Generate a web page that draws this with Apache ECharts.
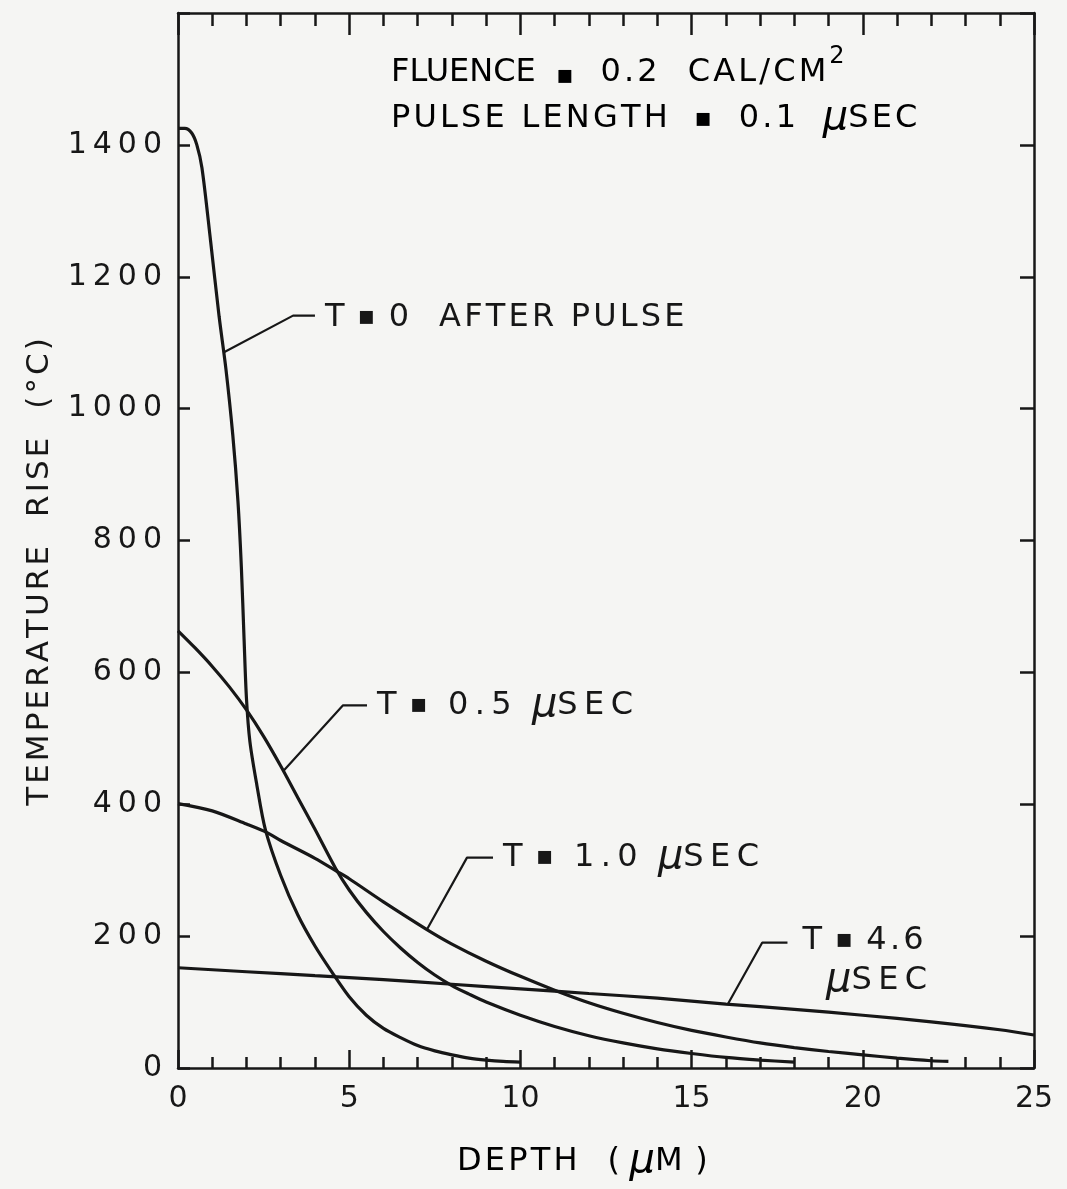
<!DOCTYPE html>
<html>
<head>
<meta charset="utf-8">
<script src="https://cdn.jsdelivr.net/npm/echarts@6/dist/echarts.min.js"></script>
<style>
  html, body { margin: 0; padding: 0; background: #f5f5f3; }
  #chart { width: 1067px; height: 1189px; }
</style>
</head>
<body>
<div id="chart"></div>
<script>
// Temperature rise versus depth for several times after a 0.1 µs laser pulse.
const FONT = '"DejaVu Sans", sans-serif';
const INK = '#171717';

// T = 0 after pulse
const t0Depth = [0, 0.2, 0.4, 0.55, 0.7, 0.95, 1.2, 1.4, 1.6, 1.75, 1.85, 1.93, 2.0, 2.1, 2.3, 2.55, 3.0, 3.5, 4.0, 4.5, 5.0, 5.5, 6.0, 6.5, 7.0, 7.5, 8.0, 8.5, 9.0, 9.5, 10.0];
const t0Temp  = [1425, 1425, 1418, 1400, 1365, 1255, 1140, 1060, 960, 860, 760, 650, 560, 495, 430, 362, 292, 232, 185, 145, 108, 80, 60, 46, 34, 26, 20, 15, 12, 10, 9];

// T = 0.5 µs
const t05Depth = [0, 0.5, 1.0, 1.5, 2.0, 2.5, 3.0, 3.5, 4.0, 4.6, 5.0, 5.5, 6.0, 6.5, 7.0, 7.5, 8.0, 8.5, 9.0, 10, 11, 12, 13, 14, 15, 16, 17, 18];
const t05Temp  = [663, 637, 609, 578, 543, 503, 458, 410, 362, 303, 270, 236, 207, 182, 160, 141, 125, 112, 100, 80, 63, 49, 38, 29, 22, 16, 12, 9];

// T = 1.0 µs
const t10Depth = [0, 1, 2, 2.6, 3, 4, 4.65, 5, 6, 7.27, 8, 9, 10, 11, 12, 13, 14, 15, 16, 17, 18, 19, 20, 21, 22, 22.5];
const t10Temp  = [401, 390, 370, 357, 345, 318, 298, 287, 252, 210, 188, 162, 139, 118, 99, 83, 69, 57, 47, 38, 31, 25, 20, 15, 11, 10];

// T = 4.6 µs
const t46Depth = [0, 2, 4, 6, 8, 10, 12, 14, 16, 18, 20, 22, 24, 25];
const t46Temp  = [152, 146, 140, 134, 127, 120, 113, 106, 97, 89, 80, 70, 58, 50];

// Leader lines (depth, temperature) from each curve to its caption
const leadT0Depth  = [1.33, 3.36, 4.0];
const leadT0Temp   = [1085, 1141, 1141];
const leadT05Depth = [3.07, 4.82, 5.52];
const leadT05Temp  = [450, 550, 550];
const leadT10Depth = [7.27, 8.44, 9.2];
const leadT10Temp  = [210, 319, 319];
const leadT46Depth = [16.06, 17.06, 17.8];
const leadT46Temp  = [97, 190, 190];

const xTicks = [0, 5, 10, 15, 20, 25];
const yTicks = [0, 200, 400, 600, 800, 1000, 1200, 1400];

const zip = (xs, ys) => xs.map((x, i) => [x, ys[i]]);
// hand-lettered look: a little air between the characters
const thin = s => s.split('').join('\u2009');
const air = s => s.split('').join('\u200A');

const MU = { fontFamily: FONT, fontSize: 40, fontStyle: 'italic', color: INK };
const TXT = { fontFamily: FONT, fontSize: 32, color: INK };
const DOT = { fontFamily: FONT, fontSize: 26, color: INK };
const t = s => '{t|' + air(s) + '}';     // slightly open
const w = s => '{t|' + thin(s) + '}';    // wide lettering
const p = s => '{t|' + s + '}';          // plain
const mu = '{mu|\u03BC}';
const eq = '{dot|\u25AA}';

function curve(name, xs, ys) {
  return {
    name, type: 'line', data: zip(xs, ys),
    smooth: 0.3, symbol: 'none',
    lineStyle: { color: INK, width: 3.2 }, silent: true, z: 3
  };
}
function leader(xs, ys, text, offset) {
  return {
    type: 'line', data: zip(xs, ys), symbol: 'none', silent: true, z: 4,
    lineStyle: { color: INK, width: 2.2 },
    endLabel: {
      show: true, distance: 10, offset: offset || [0, 0],
      formatter: text, align: 'left',
      fontFamily: FONT, fontSize: 32, color: INK, lineHeight: 40,
      rich: { t: TXT, mu: MU, dot: DOT }
    }
  };
}
const frame = () => ({ color: INK, width: 2.5 });
const tickLine = () => ({ color: INK, width: 2.5 });

const chart = echarts.init(document.getElementById('chart'), null, { renderer: 'canvas' });

chart.setOption({
  animation: false,
  backgroundColor: '#f5f5f3',
  grid: { left: 178, right: 33, top: 13, bottom: 121, containLabel: false },
  xAxis: [{
    type: 'value', min: 0, max: 25, interval: 5, position: 'bottom',
    axisLine: { show: true, onZero: false, lineStyle: frame() },
    axisTick: { show: true, inside: true, length: 18, lineStyle: tickLine() },
    minorTick: { show: true, splitNumber: 5, length: 11, lineStyle: tickLine() },
    axisLabel: { margin: 16, fontFamily: FONT, fontSize: 30, color: INK,
      formatter: v => xTicks.includes(v) ? String(v) : '' },
    splitLine: { show: false }
  }, {
    type: 'value', min: 0, max: 25, interval: 5, position: 'top',
    axisLine: { show: true, onZero: false, lineStyle: frame() },
    axisTick: { show: true, inside: true, length: 22, lineStyle: tickLine() },
    minorTick: { show: true, splitNumber: 5, length: 13, lineStyle: tickLine() },
    axisLabel: { show: false },
    splitLine: { show: false }
  }],
  yAxis: [{
    type: 'value', min: 0, max: 1600, interval: 200, position: 'left',
    axisLine: { show: true, onZero: false, lineStyle: frame() },
    axisTick: { show: true, inside: true, length: 12, lineStyle: tickLine() },
    axisLabel: { margin: 16, fontFamily: FONT, fontSize: 30, color: INK,
      formatter: v => yTicks.includes(v) ? thin(String(v)) : '' },
    splitLine: { show: false }
  }, {
    type: 'value', min: 0, max: 1600, interval: 200, position: 'right',
    axisLine: { show: true, onZero: false, lineStyle: frame() },
    axisTick: { show: true, inside: true, length: 14, lineStyle: tickLine() },
    axisLabel: { show: false },
    splitLine: { show: false }
  }],
  graphic: [
    { type: 'text', left: 391, top: 45, style: {
        text: p('FLUENCE  ') + eq + t('  0.2  CAL/CM') + '{sup|2}',
        rich: {
          t: Object.assign({ lineHeight: 34, verticalAlign: 'bottom' }, TXT),
          dot: Object.assign({ lineHeight: 34, verticalAlign: 'bottom' }, DOT),
          sup: { fontFamily: FONT, fontSize: 24, color: INK, lineHeight: 24,
                 verticalAlign: 'bottom', padding: [0, 0, 20, 3] }
        } } },
    { type: 'text', left: 391, top: 99, style: {
        text: t('PULSE LENGTH  ') + eq + t('  0.1  ') + mu + t('SEC'),
        rich: { t: TXT, mu: MU, dot: DOT } } },
    { type: 'text', left: 457, top: 1142, style: {
        text: t('DEPTH  (\u2009') + mu + t('M\u2009)'), rich: { t: TXT, mu: MU } } },
    { type: 'text', x: 40, y: 572, rotation: Math.PI / 2, style: {
        text: air('TEMPERATURE  RISE  (\u00B0C)'), font: '31px ' + FONT, fill: INK,
        align: 'center', verticalAlign: 'middle' } }
  ],
  series: [
    curve('T=0 after pulse', t0Depth, t0Temp),
    curve('T=0.5 µsec', t05Depth, t05Temp),
    curve('T=1.0 µsec', t10Depth, t10Temp),
    curve('T=4.6 µsec', t46Depth, t46Temp),
    leader(leadT0Depth, leadT0Temp, t('T ') + eq + t(' 0  AFTER PULSE'), [0, 2]),
    leader(leadT05Depth, leadT05Temp, t('T ') + eq + p('  ') + w('0.5') + p('  ') + mu + w('SEC')),
    leader(leadT10Depth, leadT10Temp, t('T ') + eq + p('  ') + w('1.0') + p('  ') + mu + w('SEC')),
    leader(leadT46Depth, leadT46Temp, t('T ') + eq + t(' 4.6') + '\n' + t('  ') + mu + w('SEC'), [5, 18])
  ]
});
</script>
</body>
</html>
